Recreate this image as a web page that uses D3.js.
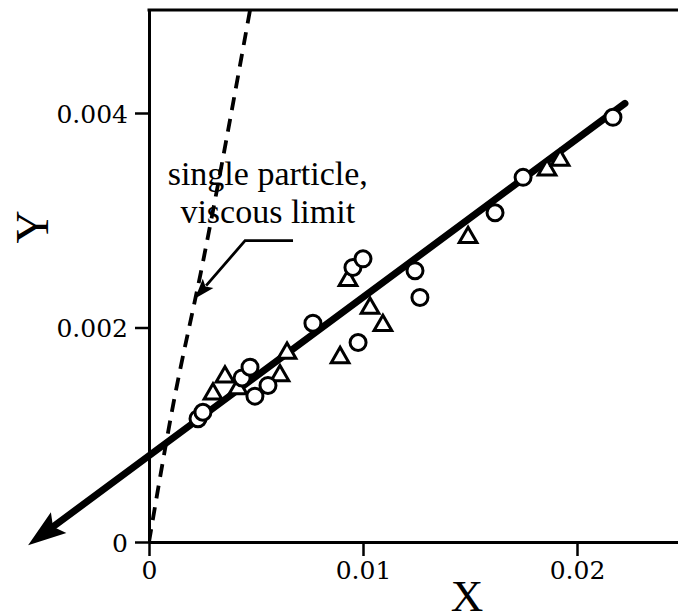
<!DOCTYPE html>
<html>
<head>
<meta charset="utf-8">
<script src="https://cdn.jsdelivr.net/npm/d3@7"></script>
<style>
  body { margin: 0; background: #fff; }
  svg { display: block; }
</style>
</head>
<body>
<div id="chart"></div>
<script>
// ---- data ----
var xTicks = [0, 0.01, 0.02];
var yTicks = [0, 0.002, 0.004];
var xMax = 0.0255, yMax = 0.00496;

var circleX = [0.00229, 0.00252, 0.00435, 0.00472, 0.00495, 0.00556, 0.00766, 0.00977, 0.00953, 0.01000, 0.01243, 0.01266, 0.01617, 0.01748, 0.02168];
var circleY = [0.00115, 0.00121, 0.00153, 0.00163, 0.00136, 0.00146, 0.00204, 0.00186, 0.00256, 0.00264, 0.00253, 0.00228, 0.00307, 0.00340, 0.00396];

var triX = [0.00299, 0.00355, 0.00416, 0.00612, 0.00645, 0.00893, 0.00930, 0.01033, 0.01093, 0.01491, 0.01860, 0.01921];
var triY = [0.00138, 0.00154, 0.00143, 0.00155, 0.00176, 0.00172, 0.00244, 0.00218, 0.00202, 0.00284, 0.00347, 0.00356];

// fitted line (arrow tip first)
var fitX = [-0.00565, 0.02224];
var fitY = [-0.00003, 0.00409];

// single particle, viscous limit (dashed)
var limitX = [0, 0.00112, 0.00253, 0.00473];
var limitY = [0, 0.00127, 0.00262, 0.00497];

// annotation leader (arrow tip last)
var leaderX = [0.00673, 0.00449, 0.00215];
var leaderY = [0.00281, 0.00281, 0.00227];
var noteLines = ["single particle,", "viscous limit"];
var noteX = 0.00555, noteY = [0.00333, 0.00297];

var width = 678, height = 616;

var svg = d3.select("#chart").append("svg")
    .attr("width", width)
    .attr("height", height);

var x = d3.scaleLinear().domain([0, xMax]).range([149, 149 + xMax * 21400]);
var y = d3.scaleLinear().domain([0, yMax]).range([542, 542 - yMax * 107250]);

var fmt = function(d){ return d === 0 ? "0" : String(d); };

svg.append("clipPath").attr("id", "plot")
  .append("rect")
    .attr("x", x(0)).attr("y", y(yMax))
    .attr("width", x(xMax) - x(0)).attr("height", y(0) - y(yMax));

// axes
var xAxis = svg.append("g")
    .attr("transform", "translate(0," + y(0) + ")")
    .call(d3.axisBottom(x).tickValues(xTicks).tickSize(14).tickSizeOuter(0).tickFormat(fmt));
var yAxis = svg.append("g")
    .attr("transform", "translate(" + x(0) + ",0)")
    .call(d3.axisLeft(y).tickValues(yTicks).tickSize(14).tickSizeOuter(0).tickFormat(fmt));

[xAxis, yAxis].forEach(function(g){
    g.select(".domain").attr("stroke", "#000").attr("stroke-width", 3);
    g.selectAll(".tick line").attr("stroke", "#000").attr("stroke-width", 2.5);
    g.selectAll(".tick text")
      .attr("fill", "#000")
      .style("font-family", "'DejaVu Serif', serif")
      .style("font-size", "25px");
});
xAxis.selectAll(".tick text").attr("y", 19);
yAxis.selectAll(".tick text").attr("x", -21).attr("dy", "0.36em");

// top border
svg.append("line")
    .attr("x1", x(0) - 1.5).attr("x2", x(xMax))
    .attr("y1", y(yMax)).attr("y2", y(yMax))
    .attr("stroke", "#000").attr("stroke-width", 3);

// axis titles
svg.append("text")
    .attr("x", 467).attr("y", 611)
    .attr("text-anchor", "middle")
    .style("font-family", "'Liberation Serif', serif")
    .style("font-size", "45px")
    .text("X");
svg.append("text")
    .attr("transform", "translate(48,227) rotate(-90)")
    .attr("text-anchor", "middle")
    .style("font-family", "'Liberation Serif', serif")
    .style("font-size", "46px")
    .text("Y");

// dashed viscous limit
var limitLine = d3.line().x(function(d){ return x(d[0]); }).y(function(d){ return y(d[1]); })
    .curve(d3.curveMonotoneX);
svg.append("path")
    .datum(d3.zip(limitX, limitY))
    .attr("clip-path", "url(#plot)")
    .attr("d", limitLine)
    .attr("fill", "none")
    .attr("stroke", "#000")
    .attr("stroke-width", 3.8)
    .attr("stroke-dasharray", "13,9");

// fitted line with arrow at lower end
var p0 = [x(fitX[0]), y(fitY[0])], p1 = [x(fitX[1]), y(fitY[1])];
var len = Math.hypot(p1[0] - p0[0], p1[1] - p0[1]);
var ux = (p1[0] - p0[0]) / len, uy = (p1[1] - p0[1]) / len;
var headL = 38, headW = 13, notch = 31;
svg.append("line")
    .attr("x1", p0[0] + ux * notch).attr("y1", p0[1] + uy * notch)
    .attr("x2", p1[0]).attr("y2", p1[1])
    .attr("stroke", "#000").attr("stroke-width", 7)
    .attr("stroke-linecap", "round");
svg.append("path")
    .attr("d", "M" + p0 +
        "L" + [p0[0] + ux * headL - uy * headW, p0[1] + uy * headL + ux * headW] +
        "L" + [p0[0] + ux * notch, p0[1] + uy * notch] +
        "L" + [p0[0] + ux * headL + uy * headW, p0[1] + uy * headL - ux * headW] + "Z")
    .attr("fill", "#000");

// annotation
svg.selectAll("text.note")
    .data(noteLines)
  .enter().append("text")
    .attr("class", "note")
    .attr("x", x(noteX))
    .attr("y", function(d, i){ return y(noteY[i]); })
    .attr("text-anchor", "middle")
    .style("font-family", "'Liberation Serif', serif")
    .style("font-size", "34px")
    .text(function(d){ return d; });

var lp = d3.zip(leaderX, leaderY).map(function(d){ return [x(d[0]), y(d[1])]; });
var tip = lp[lp.length - 1], prev = lp[lp.length - 2];
var ll = Math.hypot(prev[0] - tip[0], prev[1] - tip[1]);
var vx = (prev[0] - tip[0]) / ll, vy = (prev[1] - tip[1]) / ll;
var aL = 20, aW = 7;
var lineEnd = [tip[0] + vx * (aL - 3), tip[1] + vy * (aL - 3)];
svg.append("path")
    .attr("d", d3.line()(lp.slice(0, -1).concat([lineEnd])))
    .attr("fill", "none")
    .attr("stroke", "#000")
    .attr("stroke-width", 2.8);
svg.append("path")
    .attr("d", "M" + tip +
        "L" + [tip[0] + vx * aL - vy * aW, tip[1] + vy * aL + vx * aW] +
        "L" + [tip[0] + vx * (aL - 4), tip[1] + vy * (aL - 4)] +
        "L" + [tip[0] + vx * aL + vy * aW, tip[1] + vy * aL - vx * aW] + "Z")
    .attr("fill", "#000");

// triangles then circles on top
var triPath = d3.symbol().type(d3.symbolTriangle).size(135);
svg.selectAll("path.tri")
    .data(d3.zip(triX, triY))
  .enter().append("path")
    .attr("class", "tri")
    .attr("transform", function(d){ return "translate(" + x(d[0]) + "," + y(d[1]) + ")"; })
    .attr("d", triPath)
    .attr("fill", "#fff")
    .attr("stroke", "#000")
    .attr("stroke-width", 3)
    .attr("stroke-linejoin", "miter");

svg.selectAll("circle.pt")
    .data(d3.zip(circleX, circleY))
  .enter().append("circle")
    .attr("class", "pt")
    .attr("cx", function(d){ return x(d[0]); })
    .attr("cy", function(d){ return y(d[1]); })
    .attr("r", 8)
    .attr("fill", "#fff")
    .attr("stroke", "#000")
    .attr("stroke-width", 3);
</script>
</body>
</html>
